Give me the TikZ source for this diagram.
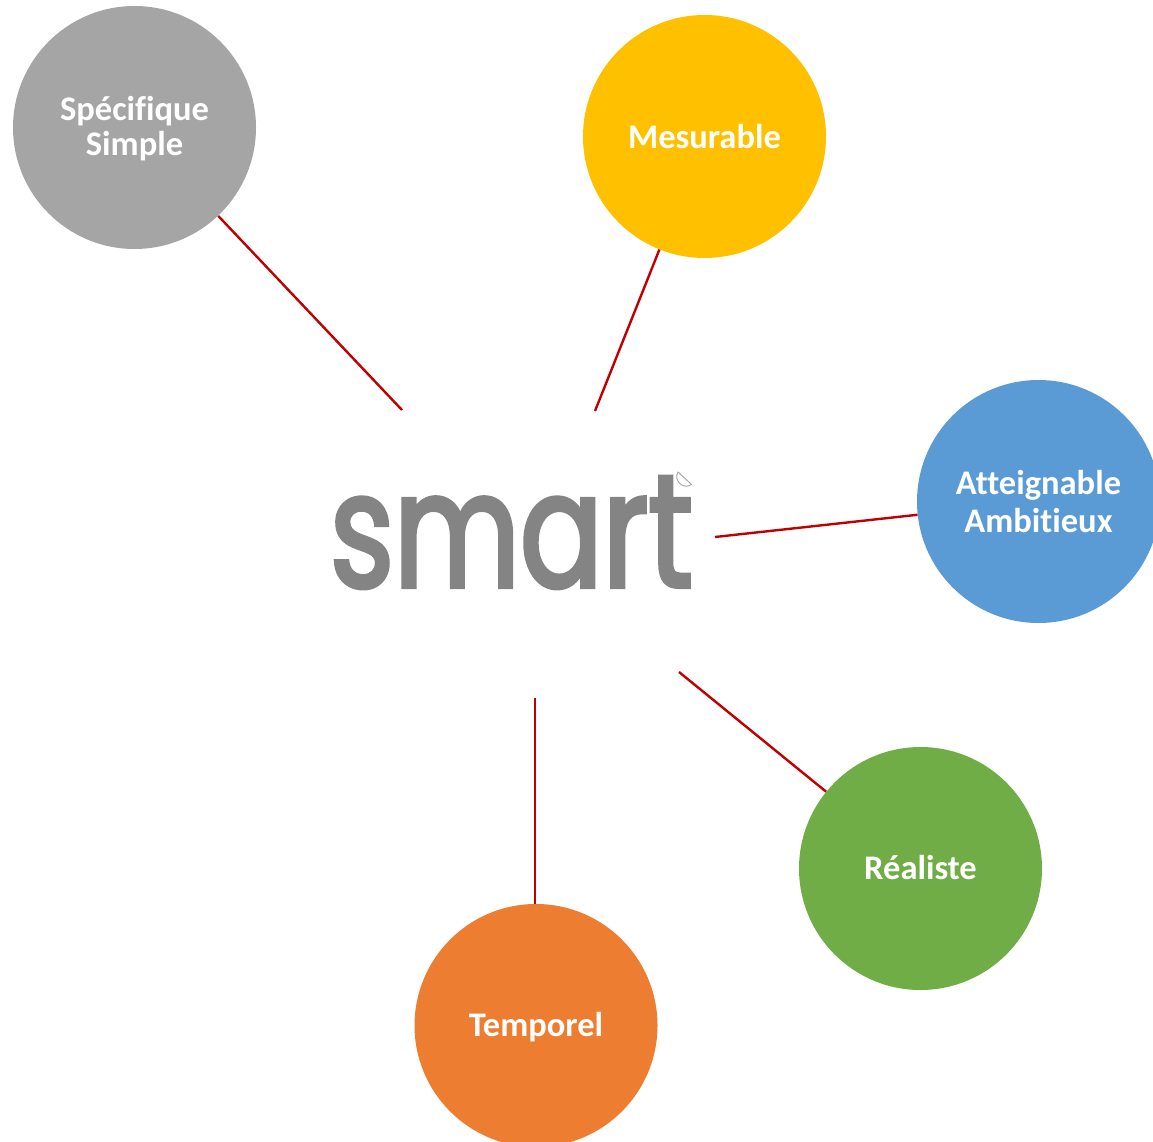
\documentclass[tikz,border=0pt]{standalone}
\usepackage{fontspec}
\setmainfont[Ligatures=NoCommon]{Carlito}
\newfontfamily\logofont[FakeStretch=0.76,FakeBold=2.5]{Poppins}
\definecolor{cGray}{HTML}{A5A5A5}
\definecolor{cYellow}{HTML}{FFC000}
\definecolor{cBlue}{HTML}{5B9BD5}
\definecolor{cGreen}{HTML}{70AD47}
\definecolor{cOrange}{HTML}{ED7D31}
\definecolor{cRed}{HTML}{C00000}
\definecolor{cLogo}{HTML}{848484}
\tikzset{
  bubble/.style={circle,inner sep=0pt,minimum size=243pt},
  bubbletext/.style={text=white,align=center,inner sep=0pt,font=\bfseries\fontsize{34.5}{35.5}\selectfont},
  spoke/.style={cRed,line width=2.4pt},
}
\begin{document}
\begin{tikzpicture}[x=1pt,y=-1pt]
\useasboundingbox (0,0) rectangle (1153,1142);
\node[bubble,fill=cGray] (s) at (134.5,127.5) {};
\node[bubble,fill=cYellow] (m) at (704.5,136.5) {};
\node[bubble,fill=cBlue] (a) at (1038.5,501.5) {};
\node[bubble,fill=cGreen] (r) at (920.5,868.5) {};
\node[bubble,fill=cOrange] (t) at (536,1025.5) {};
\node[bubbletext] (sl) at (134.5,128.5) {Spécifique\\Simple};
\node[bubbletext] (ml) at (704.5,137) {Mesurable};
\node[bubbletext,font=\bfseries\fontsize{34.5}{38}\selectfont] (al) at (1038.5,502) {Atteignable\\Ambitieux};
\node[bubbletext] (rl) at (920.5,868) {Réaliste};
\node[bubbletext] (tl) at (536,1027) {Temporel};
\node[inner sep=0pt,text=cLogo,anchor=base] (logo) at (511.5,587) {\logofont\fontsize{161}{161}\selectfont smart};
\draw[cLogo!70,line width=1pt,line join=round] (678,472) -- (691.5,484.5) .. controls (684,490) and (673,481) .. cycle;
\coordinate (c1) at (402,410);
\coordinate (c2) at (595,411);
\coordinate (c3) at (715,537);
\coordinate (c4) at (679,672);
\coordinate (c5) at (535,698);
\draw[spoke] (c1) -- (s);
\draw[spoke] (c2) -- (m);
\draw[spoke] (c3) -- (a);
\draw[spoke] (c4) -- (r);
\draw[spoke] (c5) -- (c5 |- t.north);
\end{tikzpicture}
\end{document}
